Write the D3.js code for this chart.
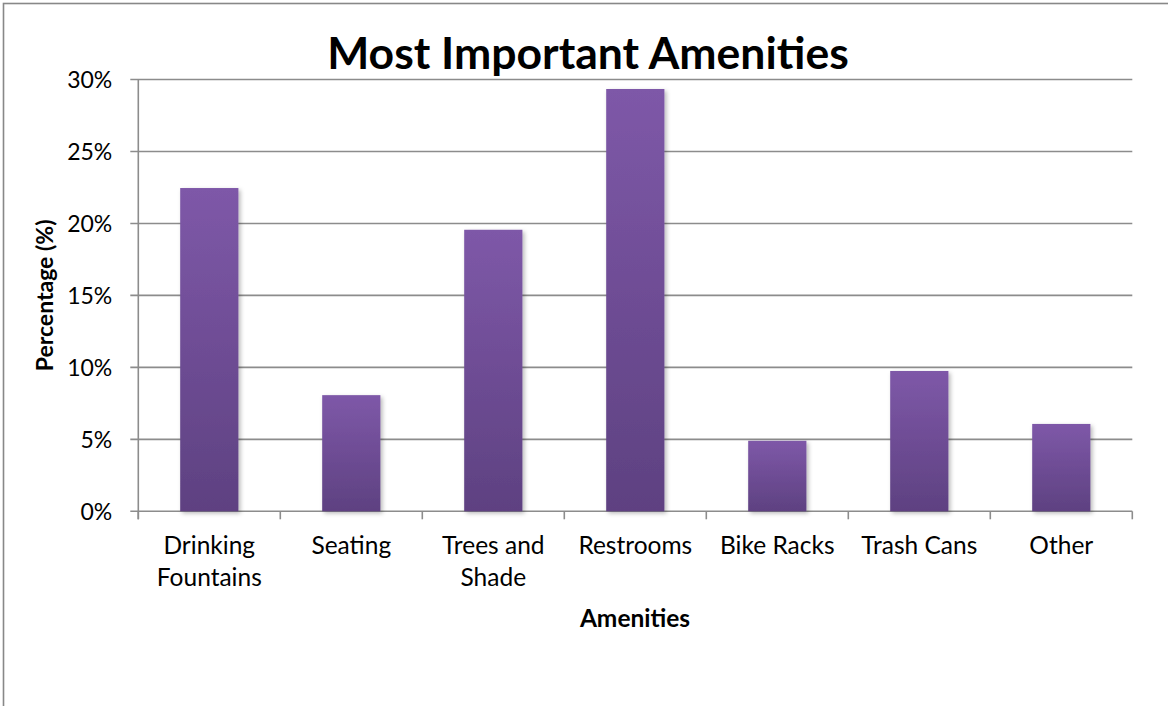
<!DOCTYPE html>
<html>
<head>
<meta charset="utf-8">
<script src="https://cdnjs.cloudflare.com/ajax/libs/d3/7.8.5/d3.min.js"></script>
<style>
  body { margin: 0; background: #fff; }
  svg { display: block; font-family: Lato, "Open Sans", sans-serif; }
</style>
</head>
<body>
<svg width="1168" height="706"></svg>
<script>
// chart data
const categories = ["Drinking Fountains", "Seating", "Trees and Shade", "Restrooms", "Bike Racks", "Trash Cans", "Other"];
const values = [0.2246, 0.0807, 0.1956, 0.2934, 0.049, 0.0975, 0.0607];
const yTicks = [0, 0.05, 0.10, 0.15, 0.20, 0.25, 0.30];

const svg = d3.select("svg");
const plotLeft = 138.3, plotRight = 1132.3, plotTop = 79.5, plotBottom = 511.3;

// chart area border (runs off the bottom/right of the picture)
svg.append("rect")
    .attr("x", 3.5).attr("y", 3.5)
    .attr("width", 1300).attr("height", 900)
    .attr("fill", "#fff")
    .attr("stroke", "#888")
    .attr("stroke-width", 1.6);

// scales
const x = d3.scaleBand()
    .domain(categories)
    .range([plotLeft, plotRight])
    .paddingInner(0.59)
    .paddingOuter(0.295);

const y = d3.scaleLinear()
    .domain([0, 0.30])
    .range([plotBottom, plotTop]);

// defs: gradient + shadow
const defs = svg.append("defs");
const grad = defs.append("linearGradient")
    .attr("id", "barGrad")
    .attr("x1", 0).attr("y1", 0).attr("x2", 0).attr("y2", 1);
grad.append("stop").attr("offset", "0%").attr("stop-color", "#7e58a8");
grad.append("stop").attr("offset", "100%").attr("stop-color", "#5e4181");

const shadow = defs.append("filter")
    .attr("id", "shadow")
    .attr("x", "-20%").attr("y", "-5%")
    .attr("width", "150%").attr("height", "120%");
shadow.append("feDropShadow")
    .attr("dx", 2).attr("dy", 2)
    .attr("stdDeviation", 2)
    .attr("flood-color", "#000")
    .attr("flood-opacity", 0.28);

// gridlines
svg.append("g")
    .attr("class", "grid")
  .selectAll("line")
  .data(yTicks)
  .enter().append("line")
    .attr("x1", plotLeft - 8)
    .attr("x2", plotRight)
    .attr("y1", d => y(d))
    .attr("y2", d => y(d))
    .attr("stroke", "#8c8c8c")
    .attr("stroke-width", 1.6);

// y axis
const yAxis = svg.append("g")
    .attr("transform", `translate(${plotLeft},0)`)
    .call(d3.axisLeft(y)
      .tickValues(yTicks)
      .tickSize(0)
      .tickPadding(26)
      .tickFormat(d3.format(".0%")));
yAxis.select(".domain").remove();
yAxis.selectAll("text")
    .attr("font-family", "Lato, sans-serif")
    .attr("font-size", 23)
    .attr("fill", "#000")
    .attr("dy", "0.36em");

svg.append("line")
    .attr("x1", plotLeft).attr("x2", plotLeft)
    .attr("y1", plotTop).attr("y2", plotBottom + 8)
    .attr("stroke", "#8c8c8c")
    .attr("stroke-width", 1.6);

// x axis ticks at category boundaries
const bounds = d3.range(categories.length + 1).map(i => plotLeft + i * x.step());
svg.append("g")
  .selectAll("line")
  .data(bounds)
  .enter().append("line")
    .attr("x1", d => d).attr("x2", d => d)
    .attr("y1", plotBottom).attr("y2", plotBottom + 8)
    .attr("stroke", "#8c8c8c")
    .attr("stroke-width", 1.6);

// bars
svg.append("g")
  .selectAll("rect")
  .data(values)
  .enter().append("rect")
    .attr("x", (d, i) => x(categories[i]))
    .attr("width", x.bandwidth())
    .attr("y", d => y(d))
    .attr("height", d => plotBottom - y(d))
    .attr("fill", "url(#barGrad)")
    .attr("filter", "url(#shadow)");

// category labels, wrapped to the band
const wrap = (text, width) => {
  text.each(function(d) {
    const t = d3.select(this);
    const words = d.split(" ");
    t.text(null);
    let line = [];
    let tspan = t.append("tspan").attr("x", t.attr("x")).attr("dy", 0);
    words.forEach(w => {
      line.push(w);
      tspan.text(line.join(" "));
      if (tspan.node().getComputedTextLength() > width && line.length > 1) {
        line.pop();
        tspan.text(line.join(" "));
        line = [w];
        tspan = t.append("tspan").attr("x", t.attr("x")).attr("dy", 32).text(w);
      }
    });
  });
};

svg.append("g")
  .selectAll("text")
  .data(categories)
  .enter().append("text")
    .attr("x", d => x(d) + x.bandwidth() / 2)
    .attr("y", 554)
    .attr("text-anchor", "middle")
    .attr("font-size", 24.5)
    .attr("fill", "#000")
    .text(d => d)
    .call(wrap, 134);

// titles
svg.append("text")
    .attr("x", 588)
    .attr("y", 69)
    .attr("text-anchor", "middle")
    .attr("font-size", 44.5)
    .attr("font-weight", "bold")
    .text("Most Important Amenities");

svg.append("text")
    .attr("x", 635)
    .attr("y", 627)
    .attr("text-anchor", "middle")
    .attr("font-size", 24.5)
    .attr("font-weight", "bold")
    .text("Amenities");

svg.append("text")
    .attr("transform", `translate(53,${(plotTop + plotBottom) / 2}) rotate(-90)`)
    .attr("text-anchor", "middle")
    .attr("font-size", 23)
    .attr("font-weight", "bold")
    .text("Percentage (%)");
</script>
</body>
</html>
